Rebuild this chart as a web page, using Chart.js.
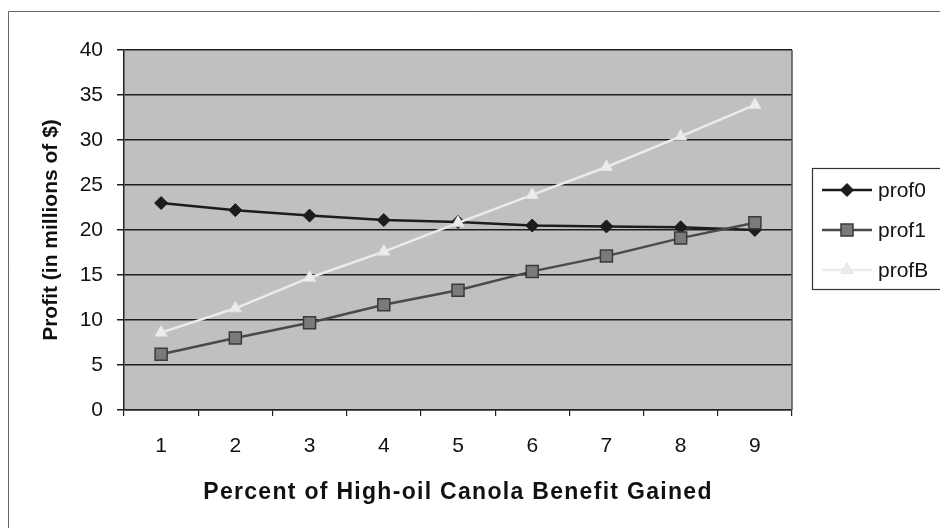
<!DOCTYPE html>
<html>
<head>
<meta charset="utf-8">
<script src="https://cdn.jsdelivr.net/npm/chart.js@4/dist/chart.umd.min.js"></script>
<style>
  html, body { margin: 0; padding: 0; background: #ffffff; }
  #wrap { width: 940px; height: 528px; position: relative; }
</style>
</head>
<body>
<div id="wrap"><canvas id="c" width="940" height="528"></canvas></div>
<script>
// Percent of high-oil canola benefit gained
const categories = ['1', '2', '3', '4', '5', '6', '7', '8', '9'];

// Profit, millions of dollars
const prof0 = [23.0, 22.2, 21.6, 21.1, 20.9, 20.5, 20.4, 20.3, 20.0];
const prof1 = [6.2, 8.0, 9.7, 11.7, 13.3, 15.4, 17.1, 19.1, 20.8];
const profB = [8.6, 11.3, 14.7, 17.6, 20.8, 23.9, 27.0, 30.4, 33.9];

const yTicks = [0, 5, 10, 15, 20, 25, 30, 35, 40];

const FONT = 'Arial, "Liberation Sans", sans-serif';

// Grey plot area, frame around the plot, outer border and the legend box
const decor = {
  id: 'decor',
  afterLayout(chart) {
    // wider letter spacing for the category-axis title
    const xs = chart.scales.x;
    if (xs && !xs._spacedTitle) {
      const base = Object.getPrototypeOf(xs).drawTitle;
      xs.drawTitle = function () {
        const ctx = this.ctx;
        const prev = ctx.letterSpacing;
        ctx.letterSpacing = '1.3px';
        base.call(this);
        ctx.letterSpacing = prev || '0px';
      };
      xs._spacedTitle = true;
    }
  },
  beforeDraw(chart) {
    const { ctx, chartArea: a } = chart;
    ctx.save();
    ctx.fillStyle = '#ffffff';
    ctx.fillRect(0, 0, chart.width, chart.height);
    ctx.fillStyle = '#c0c0c0';
    ctx.fillRect(a.left, a.top, a.right - a.left, a.bottom - a.top);
    ctx.restore();
  },
  afterDatasetsDraw(chart) {
    const { ctx, chartArea: a } = chart;
    ctx.save();
    // right edge of plot
    ctx.strokeStyle = '#555555';
    ctx.lineWidth = 1.5;
    ctx.beginPath();
    ctx.moveTo(a.right, a.top);
    ctx.lineTo(a.right, a.bottom);
    ctx.stroke();
    // outer chart border
    ctx.strokeStyle = '#666666';
    ctx.lineWidth = 1;
    ctx.beginPath();
    ctx.moveTo(8.5, chart.height);
    ctx.lineTo(8.5, 11.5);
    ctx.lineTo(chart.width, 11.5);
    ctx.stroke();

    // legend
    const lx = 812, ly = 168, lh = 121;
    ctx.strokeStyle = '#333333';
    ctx.lineWidth = 1.2;
    ctx.strokeRect(lx + 0.5, ly + 0.5, chart.width - lx + 10, lh);
    const rows = [190, 230, 270];
    chart.data.datasets.forEach((ds, i) => {
      const y = rows[i];
      ctx.strokeStyle = ds.borderColor;
      ctx.lineWidth = ds.borderWidth;
      ctx.beginPath();
      ctx.moveTo(822, y);
      ctx.lineTo(872, y);
      ctx.stroke();
      ctx.fillStyle = ds.pointBackgroundColor;
      ctx.strokeStyle = ds.pointBorderColor;
      ctx.lineWidth = ds.pointBorderWidth;
      Chart.helpers.drawPoint(ctx, {
        pointStyle: ds.pointStyle,
        radius: ds.pointRadius,
        borderWidth: ds.pointBorderWidth,
        rotation: 0
      }, 847, y);
      ctx.fillStyle = '#111111';
      ctx.font = '21px ' + FONT;
      ctx.textBaseline = 'middle';
      ctx.textAlign = 'left';
      ctx.fillText(ds.label, 878, y + 1);
    });
    ctx.restore();
  }
};

new Chart(document.getElementById('c'), {
  type: 'line',
  data: {
    labels: categories,
    datasets: [
      {
        label: 'prof0',
        data: prof0,
        borderColor: '#1c1c1c',
        borderWidth: 2.5,
        pointStyle: 'rectRot',
        pointRadius: 6.5,
        pointBackgroundColor: '#1c1c1c',
        pointBorderColor: '#1c1c1c',
        pointBorderWidth: 1,
        tension: 0,
        order: 2
      },
      {
        label: 'prof1',
        data: prof1,
        borderColor: '#4a4a4a',
        borderWidth: 2.5,
        pointStyle: 'rect',
        pointRadius: 8.5,
        pointBackgroundColor: '#7a7a7a',
        pointBorderColor: '#3a3a3a',
        pointBorderWidth: 1.5,
        tension: 0,
        order: 1
      },
      {
        label: 'profB',
        data: profB,
        borderColor: '#ebebeb',
        borderWidth: 2.5,
        pointStyle: 'triangle',
        pointRadius: 7,
        pointBackgroundColor: '#ececec',
        pointBorderColor: '#e4e4e4',
        pointBorderWidth: 1,
        tension: 0,
        order: 0
      }
    ]
  },
  options: {
    responsive: false,
    animation: false,
    devicePixelRatio: 1,
    layout: { padding: { left: 0, right: 148, top: 50, bottom: 0 } },
    plugins: {
      legend: { display: false },
      tooltip: { enabled: false }
    },
    elements: { point: { hoverRadius: 6 } },
    scales: {
      x: {
        type: 'category',
        offset: true,
        afterFit(scale) { scale.height = 118; },
        grid: {
          offset: true,
          drawOnChartArea: false,
          drawTicks: true,
          tickLength: 6,
          color: '#222222',
          lineWidth: 1.2
        },
        border: { display: true, color: '#222222', width: 1.5 },
        ticks: {
          color: '#111111',
          font: { family: FONT, size: 21 },
          padding: 18,
          maxRotation: 0
        },
        title: {
          display: true,
          text: 'Percent of High-oil Canola Benefit Gained',
          color: '#111111',
          font: { family: FONT, size: 23, weight: 'bold' },
          padding: { top: 0, bottom: 22 }
        }
      },
      y: {
        min: 0,
        max: 40,
        afterFit(scale) { scale.width = 124; },
        afterBuildTicks(scale) { scale.ticks = yTicks.map(v => ({ value: v })); },
        grid: {
          color: '#1e1e1e',
          lineWidth: 1.5,
          drawTicks: true,
          tickLength: 7
        },
        border: { display: true, color: '#222222', width: 1.5 },
        ticks: {
          color: '#111111',
          font: { family: FONT, size: 21 },
          padding: 14
        },
        title: {
          display: true,
          text: 'Profit (in millions of $)',
          color: '#111111',
          font: { family: FONT, size: 21, weight: 'bold' },
          padding: { top: 39, bottom: 0 }
        }
      }
    }
  },
  plugins: [decor]
});
</script>
</body>
</html>
